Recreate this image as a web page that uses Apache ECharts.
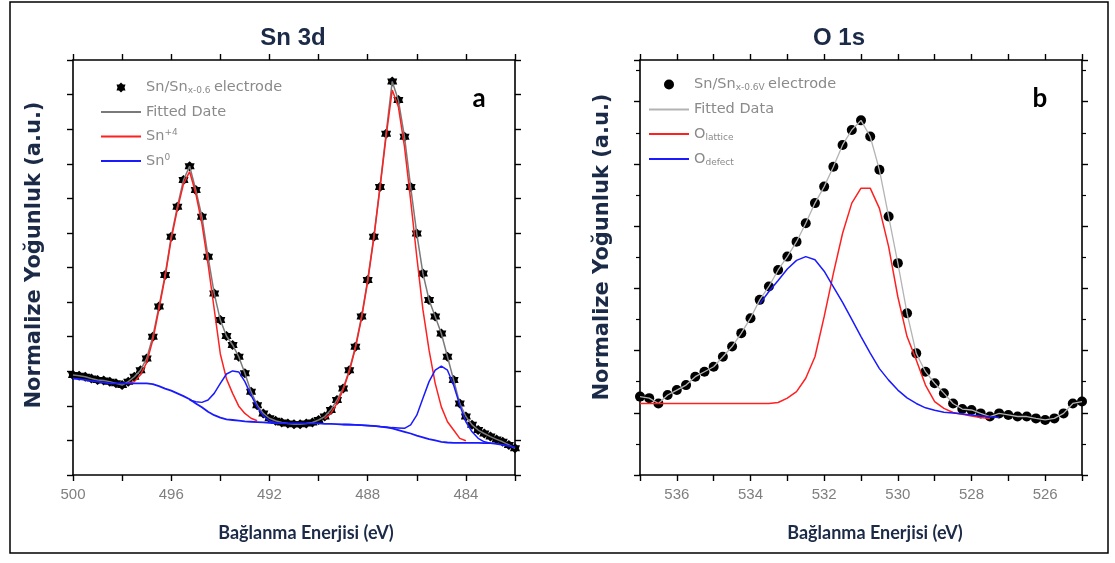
<!DOCTYPE html>
<html>
<head>
<meta charset="utf-8">
<script src="https://cdn.jsdelivr.net/npm/echarts@6/dist/echarts.min.js"></script>
<style>
html,body{margin:0;padding:0;background:#fff;}
#chart{width:1115px;height:563px;}
</style>
</head>
<body>
<div id="chart"></div>
<script>
// ---------- Panel a : Sn 3d ----------
const energyA = [500,499.75,499.5,499.25,499,498.75,498.5,498.25,498,497.75,497.5,497.25,497,496.75,496.5,496.25,496,495.75,495.5,495.25,495,494.75,494.5,494.25,494,493.75,493.5,493.25,493,492.75,492.5,492.25,492,491.75,491.5,491.25,491,490.75,490.5,490.25,490,489.75,489.5,489.25,489,488.75,488.5,488.25,488,487.75,487.5,487.25,487,486.75,486.5,486.25,486,485.75,485.5,485.25,485,484.75,484.5,484.25,484,483.75,483.5,483.25,483,482.75,482.5,482.25,482];
const measuredA = [2.89,2.87,2.84,2.79,2.75,2.73,2.70,2.65,2.60,2.70,2.84,3.03,3.37,4.00,4.87,5.78,6.89,7.76,8.53,8.93,8.24,7.47,6.31,5.25,4.48,4.02,3.76,3.42,2.94,2.41,2.02,1.78,1.64,1.57,1.52,1.49,1.47,1.47,1.49,1.52,1.59,1.69,1.88,2.17,2.50,3.03,3.71,4.58,5.64,6.89,8.33,9.87,11.38,10.84,9.78,8.33,6.98,5.83,5.06,4.58,4.09,3.42,2.75,2.07,1.69,1.45,1.30,1.20,1.11,1.03,0.96,0.87,0.77];
const sn4A = [null,null,null,null,null,null,null,null,null,2.66,2.70,2.90,3.25,3.90,4.80,5.72,6.82,7.68,8.42,8.77,8.14,7.27,6.10,4.80,3.50,2.78,2.36,1.99,1.78,1.64,1.57,null,null,null,null,null,null,null,null,null,null,1.62,1.78,2.07,2.46,2.99,3.66,4.53,5.59,6.84,8.29,9.78,11.13,10.65,9.49,7.95,6.31,4.78,3.61,2.65,1.97,1.54,1.30,1.06,0.99,null,null,null,null,null,null,null,null];
const sn0A = [null,null,null,null,null,null,null,null,null,null,null,null,null,null,null,null,null,null,null,2.17,2.12,2.10,2.17,2.36,2.65,2.92,3.01,2.98,2.70,2.31,1.97,1.71,1.56,1.51,null,null,null,null,null,null,null,null,null,null,1.46,1.45,1.45,1.44,1.43,1.42,1.40,1.39,1.37,1.36,1.35,1.45,1.73,2.22,2.70,3.03,3.15,3.03,2.60,2.02,1.54,1.25,1.06,0.96,0.92,null,null,null,null];
const backgroundA = [2.79,2.77,2.75,2.72,2.70,2.68,2.65,2.65,2.65,2.65,2.65,2.65,2.65,2.63,2.57,2.50,2.44,2.36,2.28,2.19,2.07,1.96,1.83,1.73,1.66,1.61,1.59,1.57,1.55,1.54,1.53,1.52,1.51,1.50,1.50,1.49,1.49,1.49,1.49,1.49,1.49,1.48,1.48,1.47,1.46,1.46,1.45,1.44,1.43,1.42,1.40,1.38,1.35,1.30,1.25,1.20,1.14,1.09,1.04,1.00,0.96,0.94,0.93,0.93,0.93,0.93,0.93,0.92,0.92,0.90,0.87,0.84,0.80];
const ticksA = [500,496,492,488,484];

// ---------- Panel b : O 1s ----------
const energyB = [537,536.75,536.5,536.25,536,535.75,535.5,535.25,535,534.75,534.5,534.25,534,533.75,533.5,533.25,533,532.75,532.5,532.25,532,531.75,531.5,531.25,531,530.75,530.5,530.25,530,529.75,529.5,529.25,529,528.75,528.5,528.25,528,527.75,527.5,527.25,527,526.75,526.5,526.25,526,525.75,525.5,525.25,525];
const measuredB = [2.52,2.47,2.30,2.57,2.73,2.89,3.16,3.32,3.48,3.80,4.13,4.56,5.04,5.63,6.06,6.59,7.02,7.50,8.09,8.74,9.27,9.91,10.61,11.09,11.40,10.88,9.81,8.31,6.81,5.20,3.91,3.32,2.95,2.63,2.30,2.12,2.09,1.98,1.88,1.98,1.93,1.88,1.88,1.82,1.77,1.82,1.98,2.30,2.36];
const latticeB = [2.30,2.30,2.30,2.30,2.30,2.30,2.30,2.30,2.30,2.30,2.30,2.30,2.30,2.30,2.30,2.33,2.47,2.68,3.11,3.80,5.09,6.48,7.77,8.74,9.22,9.22,8.57,7.34,5.73,4.45,3.70,2.89,2.36,2.14,2.01,1.95,1.90,1.85,1.82,null,null,null,null,null,null,null,null,null,null];
const defectB = [null,null,null,null,null,null,null,null,null,null,null,null,null,5.50,5.90,6.25,6.62,6.90,7.02,6.92,6.55,6.05,5.55,5.00,4.45,3.92,3.42,3.05,2.73,2.48,2.30,2.16,2.08,2.02,1.99,1.96,1.93,1.90,1.87,1.85,null,null,null,null,null,null,null,null,null];
const ticksB = [536,534,532,530,528,526];

const pairs = (xs, ys) => xs.map((x, i) => [x, ys[i]]);

const navy = '#1b2a47';
const legendRich = {
  n: {fontSize: 14.5, color: '#8a8a8a', fontFamily: 'DejaVu Sans', lineHeight: 16, verticalAlign: 'middle'},
  sub: {fontSize: 9, color: '#8a8a8a', fontFamily: 'DejaVu Sans', lineHeight: 16, verticalAlign: 'bottom'},
  sup: {fontSize: 9, color: '#8a8a8a', fontFamily: 'DejaVu Sans', lineHeight: 16, verticalAlign: 'top'}
};
const legendText = {
  A1: '{n|Sn/Sn}{sub|x-0.6} {n|electrode}',
  A2: '{n|Fitted Date}',
  A3: '{n|Sn}{sup|+4}',
  A4: '{n|Sn}{sup|0}',
  B1: '{n|Sn/Sn}{sub|x-0.6V} {n|electrode}',
  B2: '{n|Fitted Data}',
  B3: '{n|O}{sub|lattice}',
  B4: '{n|O}{sub|defect}'
};
const lineIcon = 'path://M0,0 L40,0 L40,2 L0,2 Z';
const starIcon = 'path://M0,-10 L4,-6 9,-6 7,0 9,6 4,6 0,10 -4,6 -9,6 -7,0 -9,-6 -4,-6 Z';

function xAxisDef(grid, pos, min, max, showLabels, labelSet) {
  return {
    type: 'value', gridIndex: grid, position: pos, min: min, max: max, interval: (grid === 0 ? 2 : 1),
    inverse: true,
    axisLine: {show: true, onZero: false, lineStyle: {color: '#000', width: 1.6}},
    axisTick: {show: true, inside: false, length: 6, lineStyle: {color: '#000', width: 1.4}},
    splitLine: {show: false},
    axisLabel: {
      show: showLabels, margin: 12, color: '#7f7f7f', fontSize: 15, fontFamily: 'Liberation Sans',
      formatter: v => (labelSet.indexOf(v) >= 0 ? String(v) : '')
    }
  };
}
function yAxisDef(grid, pos, max, interval) {
  return {
    type: 'value', gridIndex: grid, position: pos, min: 0, max: max, interval: interval,
    axisLine: {show: true, onZero: false, lineStyle: {color: '#000', width: 1.6}},
    axisTick: {show: true, inside: false, length: 6, lineStyle: {color: '#000', width: 1.4}},
    minorTick: {show: interval === 2, splitNumber: 2, length: 4, lineStyle: {color: '#000', width: 1.2}},
    splitLine: {show: false},
    axisLabel: {show: false}
  };
}

const chart = echarts.init(document.getElementById('chart'), null, {renderer: 'canvas'});
chart.setOption({
  animation: false,
  backgroundColor: '#ffffff',
  grid: [
    {left: 73, top: 60, width: 442, height: 415},
    {left: 640, top: 60, width: 442, height: 415}
  ],
  xAxis: [
    xAxisDef(0, 'bottom', 482, 500, true, ticksA),
    xAxisDef(0, 'top', 482, 500, false, ticksA),
    xAxisDef(1, 'bottom', 525, 537, true, ticksB),
    xAxisDef(1, 'top', 525, 537, false, ticksB)
  ],
  yAxis: [
    yAxisDef(0, 'left', 12, 1),
    yAxisDef(0, 'right', 12, 1),
    yAxisDef(1, 'left', 13.34, 2),
    yAxisDef(1, 'right', 13.34, 2)
  ],
  legend: [
    {
      orient: 'vertical', left: 96, top: 75, itemWidth: 40, itemHeight: 10, itemGap: 9,
      data: [{name: 'A1', icon: starIcon}, {name: 'A2', icon: lineIcon}, {name: 'A3', icon: lineIcon}, {name: 'A4', icon: lineIcon}],
      selectedMode: false,
      formatter: name => legendText[name], textStyle: {rich: legendRich}
    },
    {
      orient: 'vertical', left: 644, top: 72, itemWidth: 40, itemHeight: 10, itemGap: 9.5,
      data: [{name: 'B1', icon: 'circle'}, {name: 'B2', icon: lineIcon}, {name: 'B3', icon: lineIcon}, {name: 'B4', icon: lineIcon}],
      selectedMode: false,
      formatter: name => legendText[name], textStyle: {rich: legendRich}
    }
  ],
  graphic: [
    {type: 'rect', shape: {x: 10, y: 2, width: 1098, height: 551}, style: {fill: 'none', stroke: '#000', lineWidth: 1.5}, silent: true},
    {type: 'text', x: 293, y: 38, style: {text: 'Sn 3d', font: 'bold 24px "Liberation Sans Narrow", "Liberation Sans", sans-serif', fill: navy, textAlign: 'center', textVerticalAlign: 'middle'}},
    {type: 'text', x: 839, y: 38, style: {text: 'O 1s', font: 'bold 24px "Liberation Sans Narrow", "Liberation Sans", sans-serif', fill: navy, textAlign: 'center', textVerticalAlign: 'middle'}},
    {type: 'text', x: 306, y: 533, style: {text: 'Bağlanma Enerjisi (eV)', font: 'bold 18px Lato, sans-serif', fill: navy, textAlign: 'center', textVerticalAlign: 'middle'}},
    {type: 'text', x: 875, y: 533, style: {text: 'Bağlanma Enerjisi (eV)', font: 'bold 18px Lato, sans-serif', fill: navy, textAlign: 'center', textVerticalAlign: 'middle'}},
    {type: 'text', x: 35, y: 255, rotation: Math.PI / 2, style: {text: 'Normalize Yoğunluk (a.u.)', font: 'bold 21px "DejaVu Sans", sans-serif', fill: navy, textAlign: 'center', textVerticalAlign: 'middle'}},
    {type: 'text', x: 603, y: 247, rotation: Math.PI / 2, style: {text: 'Normalize Yoğunluk (a.u.)', font: 'bold 21px "DejaVu Sans", sans-serif', fill: navy, textAlign: 'center', textVerticalAlign: 'middle'}},
    {type: 'text', x: 479, y: 99, style: {text: 'a', font: 'bold 26px Lato, sans-serif', fill: '#000', textAlign: 'center', textVerticalAlign: 'middle'}},
    {type: 'text', x: 1040, y: 99, style: {text: 'b', font: 'bold 26px Lato, sans-serif', fill: '#000', textAlign: 'center', textVerticalAlign: 'middle'}}
  ],
  series: [
    {name: 'A1', type: 'scatter', xAxisIndex: 0, yAxisIndex: 0, data: pairs(energyA, measuredA), symbol: starIcon, symbolSize: 10, itemStyle: {color: '#000', opacity: 1}},
    {name: 'A2', type: 'line', xAxisIndex: 0, yAxisIndex: 0, data: pairs(energyA, measuredA), symbol: 'none', lineStyle: {color: '#7a7a7a', width: 1.5}, itemStyle: {color: '#7a7a7a'}},
    {name: 'A3', type: 'line', xAxisIndex: 0, yAxisIndex: 0, data: pairs(energyA, sn4A), symbol: 'none', lineStyle: {color: '#ff2020', width: 1.5}, itemStyle: {color: '#ff2020'}},
    {name: 'Abg', type: 'line', xAxisIndex: 0, yAxisIndex: 0, data: pairs(energyA, backgroundA), symbol: 'none', lineStyle: {color: '#1a1aff', width: 1.8}, itemStyle: {color: '#1a1aff'}},
    {name: 'A4', type: 'line', xAxisIndex: 0, yAxisIndex: 0, data: pairs(energyA, sn0A), symbol: 'none', lineStyle: {color: '#1a1aff', width: 1.5}, itemStyle: {color: '#1a1aff'}},

    {name: 'B1', type: 'scatter', xAxisIndex: 2, yAxisIndex: 2, data: pairs(energyB, measuredB), symbol: 'circle', symbolSize: 10, itemStyle: {color: '#000', opacity: 1}},
    {name: 'B2', type: 'line', xAxisIndex: 2, yAxisIndex: 2, data: pairs(energyB, measuredB), symbol: 'none', lineStyle: {color: '#b3b3b3', width: 1.3}, itemStyle: {color: '#b3b3b3'}},
    {name: 'B3', type: 'line', xAxisIndex: 2, yAxisIndex: 2, data: pairs(energyB, latticeB), symbol: 'none', lineStyle: {color: '#ff2020', width: 1.5}, itemStyle: {color: '#ff2020'}},
    {name: 'B4', type: 'line', xAxisIndex: 2, yAxisIndex: 2, data: pairs(energyB, defectB), symbol: 'none', lineStyle: {color: '#1a1aff', width: 1.5}, itemStyle: {color: '#1a1aff'}}
  ]
});
</script>
</body>
</html>
